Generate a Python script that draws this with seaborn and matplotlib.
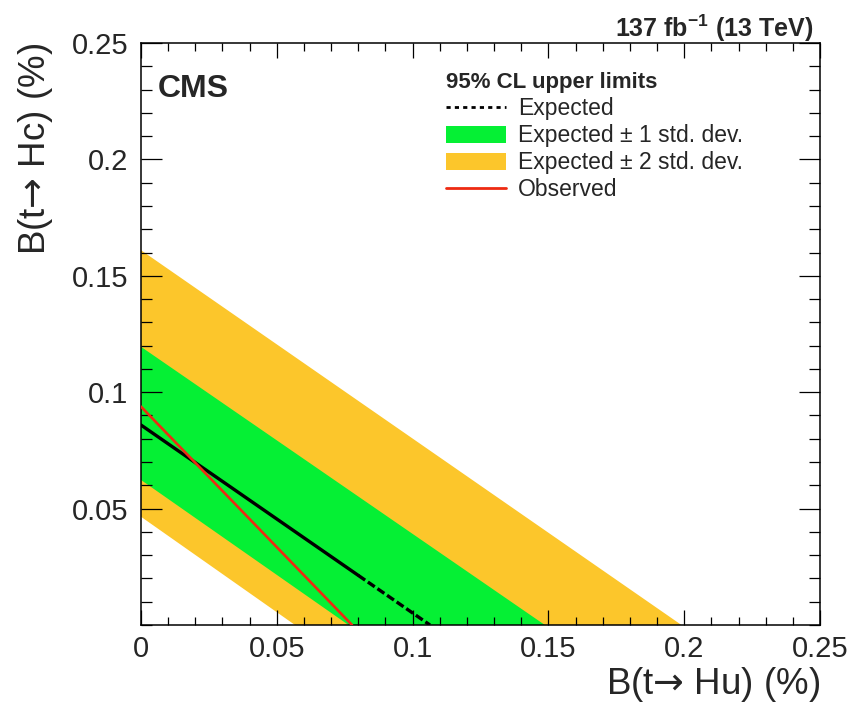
import numpy as np
import pandas as pd
import matplotlib
matplotlib.use("Agg")
import matplotlib.pyplot as plt
from matplotlib.lines import Line2D
from matplotlib.patches import Patch
from matplotlib.ticker import MultipleLocator
import seaborn as sns

# 95% CL limit contours in the B(t->Hu) vs B(t->Hc) plane (%)
band2_upper_x = [0.0, 0.199]
band2_upper_y = [0.161, 0.0]
band2_lower_x = [0.0, 0.0567]
band2_lower_y = [0.0465, 0.0]
band1_upper_x = [0.0, 0.1487]
band1_upper_y = [0.1195, 0.0]
band1_lower_x = [0.0, 0.0764]
band1_lower_y = [0.0623, 0.0]
expected_x = [0.0, 0.1064]
expected_y = [0.0859, 0.0]
observed_x = [0.0, 0.0777]
observed_y = [0.0938, 0.0]
expected_solid_end = 0.08

xtick_vals = [0.0, 0.05, 0.1, 0.15, 0.2, 0.25]
xtick_labels = ["0", "0.05", "0.1", "0.15", "0.2", "0.25"]
ytick_vals = [0.05, 0.1, 0.15, 0.2, 0.25]
ytick_labels = ["0.05", "0.1", "0.15", "0.2", "0.25"]

green = "#05f034"
yellow = "#fcc62b"
red = "#ee2a12"

sns.set_style("ticks")
plt.rcParams["font.family"] = ["Liberation Sans", "DejaVu Sans"]
plt.rcParams["mathtext.fontset"] = "custom"
plt.rcParams["mathtext.rm"] = "Liberation Sans"
plt.rcParams["mathtext.bf"] = "Liberation Sans:bold"
plt.rcParams["mathtext.sf"] = "DejaVu Sans"

fig = plt.figure(figsize=(8.56, 7.05), dpi=100)
ax = fig.add_axes([141 / 856, 1 - 625 / 705, 679 / 856, 582 / 705])


def band_polygon(ux, uy, lx, ly):
    return list(ux) + list(lx)[::-1], list(uy) + list(ly)[::-1]


px, py = band_polygon(band2_upper_x, band2_upper_y, band2_lower_x, band2_lower_y)
ax.fill(px, py, color=yellow, lw=0, zorder=1)
px, py = band_polygon(band1_upper_x, band1_upper_y, band1_lower_x, band1_lower_y)
ax.fill(px, py, color=green, lw=0, zorder=1.1)

# expected: solid part then dashed tail
y_split = float(np.interp(expected_solid_end, expected_x, expected_y))
solid = pd.DataFrame({"x": [expected_x[0], expected_solid_end], "y": [expected_y[0], y_split]})
dashed = pd.DataFrame({"x": [expected_solid_end, expected_x[1]], "y": [y_split, expected_y[1]]})
sns.lineplot(data=solid, x="x", y="y", ax=ax, color="black", lw=2.4,
             estimator=None, sort=False, zorder=3)
sns.lineplot(data=dashed, x="x", y="y", ax=ax, color="black", lw=2.4,
             linestyle=(0, (2.5, 1.0)), estimator=None, sort=False, zorder=3)
obs = pd.DataFrame({"x": observed_x, "y": observed_y})
sns.lineplot(data=obs, x="x", y="y", ax=ax, color=red, lw=1.9,
             estimator=None, sort=False, zorder=3.1)

ax.set_xlim(0, 0.25)
ax.set_ylim(0, 0.25)
ax.set_xticks(xtick_vals)
ax.set_xticklabels(xtick_labels)
ax.set_yticks(ytick_vals)
ax.set_yticklabels(ytick_labels)
ax.xaxis.set_minor_locator(MultipleLocator(0.01))
ax.yaxis.set_minor_locator(MultipleLocator(0.01))
ax.set_axisbelow(False)
ax.tick_params(axis="both", which="both", direction="in", top=True, right=True,
               width=0.9, color="black", labelsize=21)
ax.tick_params(axis="x", which="major", length=11, pad=7)
ax.tick_params(axis="x", which="minor", length=6)
ax.tick_params(axis="y", which="major", length=15, pad=9)
ax.tick_params(axis="y", which="minor", length=8)
for s in ax.spines.values():
    s.set_linewidth(1.1)
    s.set_color("black")

ax.set_xlabel("B(t$\\mathsf{\u2192}$ Hu) (%)", fontsize=26.5, loc="right")
ax.set_ylabel("B(t$\\mathsf{\u2192}$ Hc) (%)", fontsize=26.5, loc="top")
ax.xaxis.set_label_coords(1.0, -0.068)
ax.yaxis.set_label_coords(-0.127, 1.0)

ax.text(0.024, 0.907, "CMS", transform=ax.transAxes, fontsize=23,
        fontweight="bold", ha="left", va="baseline")
ax.text(0.99, 1.011, r"137 fb$^{\mathbf{-1}}$ (13 TeV)", transform=ax.transAxes,
        fontsize=18, fontweight="bold", ha="right", va="baseline")

handles = [
    Line2D([], [], color="black", lw=2, linestyle=(0, (1.5, 1.5))),
    Patch(facecolor=green, edgecolor="none"),
    Patch(facecolor=yellow, edgecolor="none"),
    Line2D([], [], color=red, lw=2),
]
labels = ["Expected", "Expected \u00b1 1 std. dev.",
          "Expected \u00b1 2 std. dev.", "Observed"]
leg = ax.legend(handles, labels, loc="upper left",
                bbox_to_anchor=((446 - 141) / 679, (625 - 72) / 582),
                frameon=False, fontsize=16.5, title="95% CL upper limits",
                title_fontproperties={"weight": "bold", "size": 16},
                alignment="left", borderpad=0, borderaxespad=0,
                handlelength=2.6, handleheight=0.8, handletextpad=0.55,
                labelspacing=0.18)

fig.savefig("out.png", dpi=100)
